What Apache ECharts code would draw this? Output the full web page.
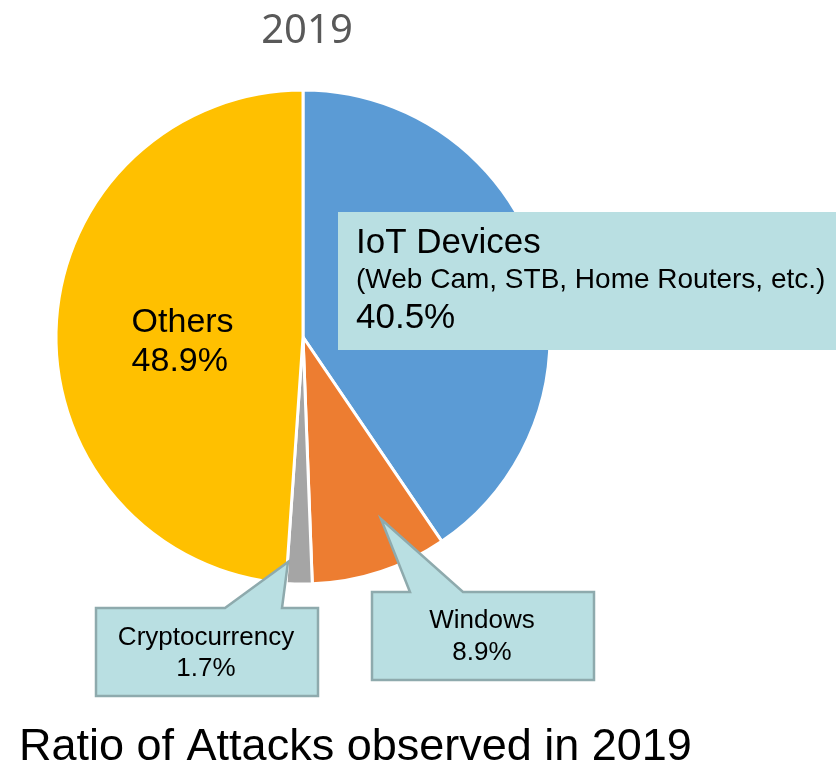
<!DOCTYPE html>
<html>
<head>
<meta charset="utf-8">
<script src="https://cdn.jsdelivr.net/npm/echarts@6/dist/echarts.min.js"></script>
<style>
  html, body { margin: 0; padding: 0; background: #fff; }
  #chart { width: 836px; height: 765px; }
</style>
</head>
<body>
<div id="chart"></div>
<script>
// Доли атак за 2019 год (%), по часовой стрелке от 12 часов
const names = ['IoT Devices', 'Windows', 'Cryptocurrency', 'Others'];
const values = [40.5, 8.9, 1.7, 48.9];
const colors = ['#5b9bd5', '#ed7d31', '#a5a5a5', '#ffc000'];
const iotNote = '(Web Cam, STB, Home Routers, etc.)';
const yearTitle = '2019';
const caption = 'Ratio of Attacks observed in 2019';

const FONT = '"Liberation Sans", Arial, sans-serif';
const CALLOUT_FILL = '#b9dfe2';
const CALLOUT_STROKE = '#8eaaad';

const pct = (v) => v.toFixed(1) + '%';

const chart = echarts.init(document.getElementById('chart'));

// выноски: фигура + подписи (текст берётся из данных)
const callouts = [
  {
    type: 'polygon', z: 10,
    shape: { points: [[338, 212], [836, 212], [836, 350], [338, 350]] },
    style: { fill: CALLOUT_FILL },
  },
  {
    type: 'polygon', z: 10,
    shape: { points: [[372, 592], [410, 592], [381, 519], [463, 592], [594, 592], [594, 680], [372, 680]] },
    style: { fill: CALLOUT_FILL, stroke: CALLOUT_STROKE, lineWidth: 2.5 },
  },
  {
    type: 'polygon', z: 10,
    shape: { points: [[96, 608], [225, 608], [288, 562], [282, 608], [318, 608], [318, 696], [96, 696]] },
    style: { fill: CALLOUT_FILL, stroke: CALLOUT_STROKE, lineWidth: 2.5 },
  },
];

const txt = (text, x, y, size, align) => ({
  type: 'text', z: 11, x, y,
  style: { text, fill: '#000', font: `${size}px ${FONT}`, align: align || 'left', verticalAlign: 'middle' },
});

const calloutTexts = [
  txt(names[0], 356, 243, 35),
  txt(iotNote, 356, 280, 28),
  txt(pct(values[0]), 356, 318, 35),
  txt(names[1], 482, 621, 26, 'center'),
  txt(pct(values[1]), 482, 653, 26, 'center'),
  txt(names[2], 206, 638, 26, 'center'),
  txt(pct(values[2]), 206, 669, 26, 'center'),
];

chart.setOption({
  backgroundColor: '#fff',
  animation: false,
  title: [
    {
      text: yearTitle, left: 302, top: 7, textAlign: 'center',
      textStyle: { fontSize: 40, fontWeight: 'normal', color: '#595959', fontFamily: '"Noto Sans", sans-serif' },
    },
    {
      text: caption, left: 14, top: 720,
      textStyle: { fontSize: 45, fontWeight: 'normal', color: '#000', fontFamily: FONT },
    },
  ],
  series: [{
    type: 'pie',
    center: [303, 337],
    radius: [0, 247],
    startAngle: 90,
    clockwise: true,
    z: 2,
    itemStyle: { borderColor: '#fff', borderWidth: 3 },
    label: { show: false },
    labelLine: { show: false },
    emphasis: { disabled: true },
    data: names.map((n, i) => {
      const item = { name: n, value: values[i], itemStyle: { color: colors[i] } };
      if (n === 'Others') {
        item.label = {
          show: true,
          position: 'inside',
          offset: [7, 9],
          formatter: (p) => `{a|${p.name}}\n{a|${pct(p.value)}}`,
          rich: { a: { fontSize: 34, lineHeight: 39, width: 104, align: 'left', color: '#000', fontFamily: FONT } },
        };
      }
      return item;
    }),
  }],
  graphic: [...callouts, ...calloutTexts],
});
</script>
</body>
</html>
